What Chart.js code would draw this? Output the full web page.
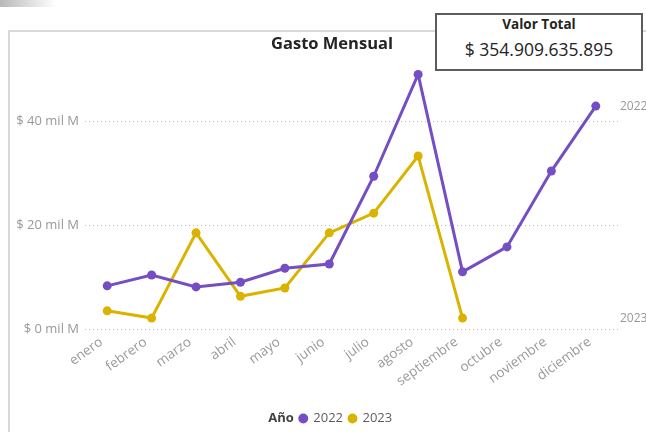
<!DOCTYPE html>
<html>
<head>
<meta charset="utf-8">
<script src="https://cdn.jsdelivr.net/npm/chart.js@4"></script>
<style>
  body { margin: 0; width: 646px; height: 432px; overflow: hidden; background: #fff; font-family: 'Open Sans', sans-serif; }
  .fade { position: absolute; left: 0; top: 0; width: 56px; height: 7px; background: linear-gradient(to right, #b8b8b8, #fff); }
  .card { position: absolute; left: 8px; top: 30px; width: 700px; height: 500px; border: 2px solid #d9d9d9; box-sizing: border-box; }
  #wrap { position: absolute; left: 10px; top: 32px; width: 636px; height: 408px; }
  .kpi { position: absolute; left: 435px; top: 13px; width: 208px; height: 58px; border: 2px solid #5c5c5c; background: #fff; box-sizing: border-box; text-align: center; color: #252423; }
  .kpi .t { font-weight: bold; font-size: 13.5px; margin-top: 0px; line-height: 18px; }
  .kpi .v { font-size: 17.5px; line-height: 24px; margin-top: 4px; }
</style>
</head>
<body>
<div class="fade"></div>
<div class="card"></div>
<div id="wrap"><canvas id="grafico"></canvas></div>
<div class="kpi"><div class="t">Valor Total</div><div class="v">$ 354.909.635.895</div></div>
<script>
// gasto por mes, en mil millones
const meses = ['enero', 'febrero', 'marzo', 'abril', 'mayo', 'junio', 'julio', 'agosto', 'septiembre', 'octubre', 'noviembre', 'diciembre'];
const gasto2022 = [8.3, 10.4, 8.1, 9.0, 11.7, 12.5, 29.4, 49.0, 11.0, 15.8, 30.4, 42.9];
const gasto2023 = [3.5, 2.1, 18.5, 6.3, 7.9, 18.5, 22.3, 33.3, 2.1, null, null, null];
const ticksY = [0, 20, 40];

const morado = '#744EC2';
const amarillo = '#D9B300';
const fuente = "'Open Sans', sans-serif";

// etiqueta del año al final de cada serie, a la derecha del área
const etiquetasSerie = {
    id: 'etiquetasSerie',
    afterDatasetsDraw(chart) {
        const { ctx, chartArea, scales } = chart;
        ctx.save();
        ctx.font = '12px ' + fuente;
        ctx.fillStyle = '#999999';
        ctx.textBaseline = 'middle';
        ctx.textAlign = 'left';
        chart.data.datasets.forEach(ds => {
            const vals = ds.data.filter(v => v !== null);
            const y = scales.y.getPixelForValue(vals[vals.length - 1]);
            ctx.fillText(ds.label, chartArea.right + 2, y);
        });
        ctx.restore();
    }
};

// corre título y leyenda un poco a la derecha, y pone "Año" delante de la leyenda
const tituloLeyenda = {
    id: 'tituloLeyenda',
    afterUpdate(chart) {
        chart.titleBlock.left += 18;
        chart.titleBlock.right += 18;
        chart.legend.left += 32;
        chart.legend.right += 32;
        chart.legend.legendHitBoxes.forEach(b => { b.left += 32; });
    },
    afterDraw(chart) {
        const box = chart.legend.legendHitBoxes[0];
        if (!box) return;
        const ctx = chart.ctx;
        ctx.save();
        ctx.font = 'bold 13px ' + fuente;
        ctx.fillStyle = '#404040';
        ctx.textAlign = 'right';
        ctx.textBaseline = 'middle';
        ctx.fillText('Año', box.left - 6, box.top + box.height / 2);
        ctx.restore();
    }
};

const ctx = document.querySelector('#grafico');
new Chart(ctx, {
    type: 'line',
    data: {
        labels: meses,
        datasets: [
            {
                label: '2022',
                data: gasto2022,
                borderColor: morado,
                backgroundColor: morado,
                borderWidth: 3,
                pointRadius: 4.5,
                pointBorderWidth: 0
            },
            {
                label: '2023',
                data: gasto2023,
                borderColor: amarillo,
                backgroundColor: amarillo,
                borderWidth: 3,
                pointRadius: 4.5,
                pointBorderWidth: 0
            }
        ]
    },
    options: {
        responsive: true,
        maintainAspectRatio: false,
        animation: false,
        layout: { padding: { right: 28, bottom: 5 } },
        plugins: {
            title: {
                display: true,
                text: 'Gasto Mensual',
                color: '#252423',
                font: { family: fuente, size: 16.5, weight: 'bold' },
                padding: { top: 2, bottom: 5 }
            },
            legend: {
                position: 'bottom',
                labels: {
                    usePointStyle: true,
                    pointStyle: 'circle',
                    boxWidth: 7,
                    boxHeight: 7,
                    padding: 6,
                    color: '#605e5c',
                    font: { family: fuente, size: 13 }
                }
            },
            tooltip: { enabled: false }
        },
        scales: {
            x: {
                offset: true,
                grid: { display: false },
                border: { display: false },
                afterFit: s => { s.height = 77; },
                ticks: {
                    color: '#999999',
                    minRotation: 36,
                    maxRotation: 36,
                    padding: -3,
                    labelOffset: -6,
                    font: { family: fuente, size: 13.5 }
                }
            },
            y: {
                min: 0,
                max: 52,
                afterFit: s => { s.width = 75; },
                afterBuildTicks: s => { s.ticks = ticksY.map(v => ({ value: v })); },
                border: { display: false, dash: [1, 3] },
                grid: {
                    color: '#bdbdbd',
                    tickLength: 0
                },
                ticks: {
                    color: '#999999',
                    padding: 6,
                    font: { family: fuente, size: 13 },
                    callback: v => '$ ' + v + ' mil M'
                }
            }
        }
    },
    plugins: [etiquetasSerie, tituloLeyenda]
});
</script>
</body>
</html>
